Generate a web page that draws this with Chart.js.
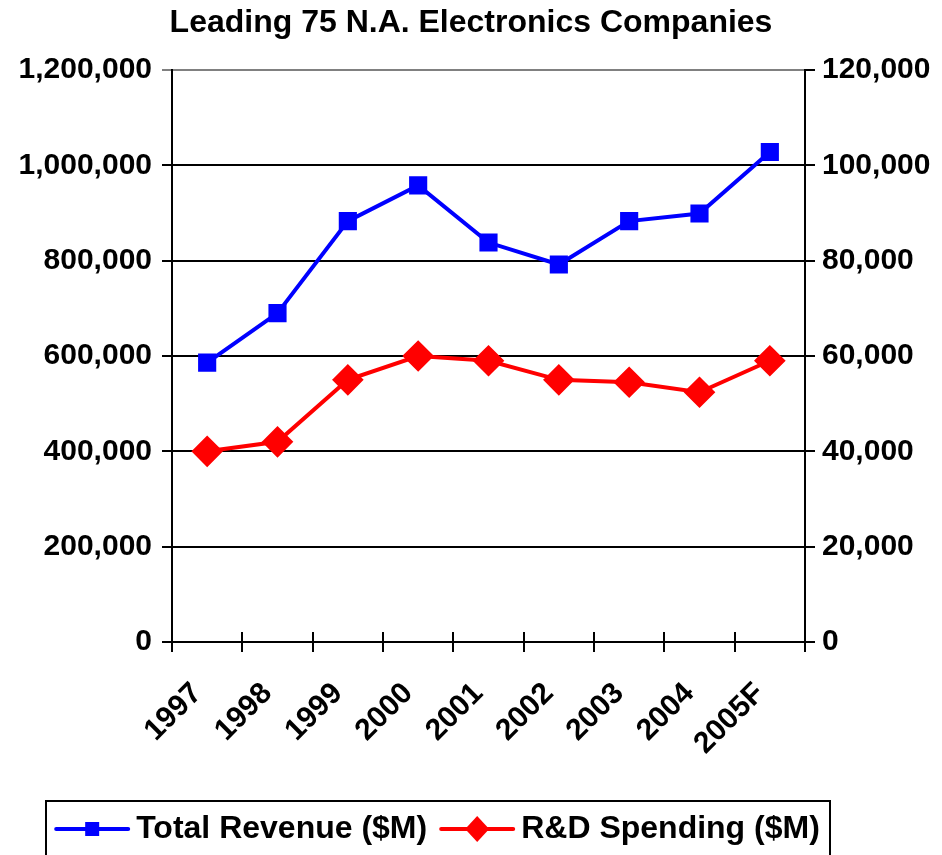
<!DOCTYPE html>
<html>
<head>
<meta charset="utf-8">
<title>Leading 75 N.A. Electronics Companies</title>
<script src="https://cdn.jsdelivr.net/npm/chart.js@4"></script>
<style>
  html, body { margin: 0; padding: 0; background: #fff; }
  #wrap { width: 942px; height: 855px; }
</style>
</head>
<body>
<div id="wrap"><canvas id="myChart" width="942" height="855"></canvas></div>
<script>
// Chart data
const years = ["1997", "1998", "1999", "2000", "2001", "2002", "2003", "2004", "2005F"];
const totalRevenue = [586000, 690000, 883000, 958000, 838000, 792000, 883000, 899000, 1028000];
const rdSpending = [40000, 42000, 55000, 60000, 59000, 55000, 54500, 52400, 59000];

const FONT = "'Liberation Sans', Arial, sans-serif";

/**
 * Draws the boxed legend at the bottom (line + marker, then label)
 * and the inner half of the x axis tick marks
 */
const legendPlugin = {
  id: "boxLegend",
  afterDraw(chart) {
    const ctx = chart.ctx;
    ctx.save();

    // inner half of the category ticks
    const x = chart.scales.x;
    const bottom = chart.chartArea.bottom;
    ctx.strokeStyle = "#000";
    ctx.lineWidth = 2;
    ctx.beginPath();
    for (let i = 0; i <= years.length; i++) {
      const px = Math.round(x.left + (x.width / years.length) * i);
      ctx.moveTo(px, bottom);
      ctx.lineTo(px, bottom - 10);
    }
    ctx.stroke();

    // legend frame
    ctx.strokeRect(46, 801, 784, 80);

    ctx.font = "bold 32px " + FONT;
    ctx.textBaseline = "middle";
    ctx.fillStyle = "#000";
    const iconW = 72;
    const gapIcon = 8;
    const gapItem = 14;
    const ds = chart.data.datasets;
    const widths = ds.map(d => ctx.measureText(d.label).width);
    const total = widths.reduce((a, w) => a + iconW + gapIcon + w, 0) + gapItem;
    let cx = 46 + (784 - total) / 2;
    const cy = 829;

    ds.forEach((d, i) => {
      ctx.strokeStyle = d.borderColor;
      ctx.fillStyle = d.borderColor;
      ctx.lineWidth = 4;
      ctx.lineCap = "round";
      ctx.beginPath();
      ctx.moveTo(cx, cy);
      ctx.lineTo(cx + iconW, cy);
      ctx.stroke();
      const mx = cx + iconW / 2;
      ctx.beginPath();
      if (d.pointStyle === "rect") {
        ctx.rect(mx - 7, cy - 7, 14, 14);
      } else {
        ctx.moveTo(mx, cy - 13);
        ctx.lineTo(mx + 12, cy);
        ctx.lineTo(mx, cy + 13);
        ctx.lineTo(mx - 12, cy);
        ctx.closePath();
      }
      ctx.fill();
      ctx.fillStyle = "#000";
      ctx.fillText(d.label, cx + iconW + gapIcon, cy);
      cx += iconW + gapIcon + widths[i] + gapItem;
    });
    ctx.restore();
  },
};

new Chart("myChart", {
  type: "line",
  data: {
    labels: years,
    datasets: [
      {
        label: "Total Revenue ($M)",
        data: totalRevenue,
        yAxisID: "y",
        borderColor: "#0000FF",
        backgroundColor: "#0000FF",
        borderWidth: 4,
        pointStyle: "rect",
        pointRadius: 10,
        pointHoverRadius: 10,
        tension: 0,
      },
      {
        label: "R&D Spending ($M)",
        data: rdSpending,
        yAxisID: "y1",
        borderColor: "#FF0000",
        backgroundColor: "#FF0000",
        borderWidth: 4,
        pointStyle: "rectRot",
        pointRadius: 13,
        pointHoverRadius: 13,
        tension: 0,
      },
    ],
  },
  options: {
    responsive: false,
    animation: false,
    devicePixelRatio: 1,
    layout: { padding: { left: 0, right: 0, top: 0, bottom: 63 } },
    plugins: {
      title: {
        display: true,
        text: "Leading 75 N.A. Electronics Companies",
        color: "#000",
        font: { family: FONT, size: 32, weight: "bold", lineHeight: 1.2 },
        padding: { top: 4, bottom: 27.6 },
      },
      legend: { display: false },
      tooltip: { enabled: false },
    },
    scales: {
      x: {
        offset: true,
        border: { color: "#000", width: 2 },
        grid: { offset: true, drawOnChartArea: false, color: "#000", lineWidth: 2, tickLength: 10 },
        ticks: {
          color: "#000",
          font: { family: FONT, size: 30, weight: "bold" },
          minRotation: 45,
          maxRotation: 45,
          padding: 24,
          labelOffset: -10,
        },
        afterFit: scale => { scale.height = 150; },
      },
      y: {
        position: "left",
        min: 0,
        max: 1200000,
        border: { color: "#000", width: 2 },
        grid: {
          color: c => (c.tick && c.tick.value === 1200000 ? "#808080" : "#000"),
          lineWidth: 2,
          tickLength: 10,
        },
        ticks: {
          stepSize: 200000,
          color: "#000",
          font: { family: FONT, size: 30, weight: "bold" },
          padding: 10,
          callback: value => value.toLocaleString("en-US"),
        },
        afterFit: scale => { scale.width = 172; },
      },
      y1: {
        position: "right",
        min: 0,
        max: 120000,
        border: { color: "#000", width: 2 },
        grid: { drawOnChartArea: false, color: "#000", lineWidth: 2, tickLength: 10 },
        ticks: {
          stepSize: 20000,
          color: "#000",
          font: { family: FONT, size: 30, weight: "bold" },
          padding: 7,
          callback: value => value.toLocaleString("en-US"),
        },
        afterFit: scale => { scale.width = 137; },
      },
    },
  },
  plugins: [legendPlugin],
});
</script>
</body>
</html>
